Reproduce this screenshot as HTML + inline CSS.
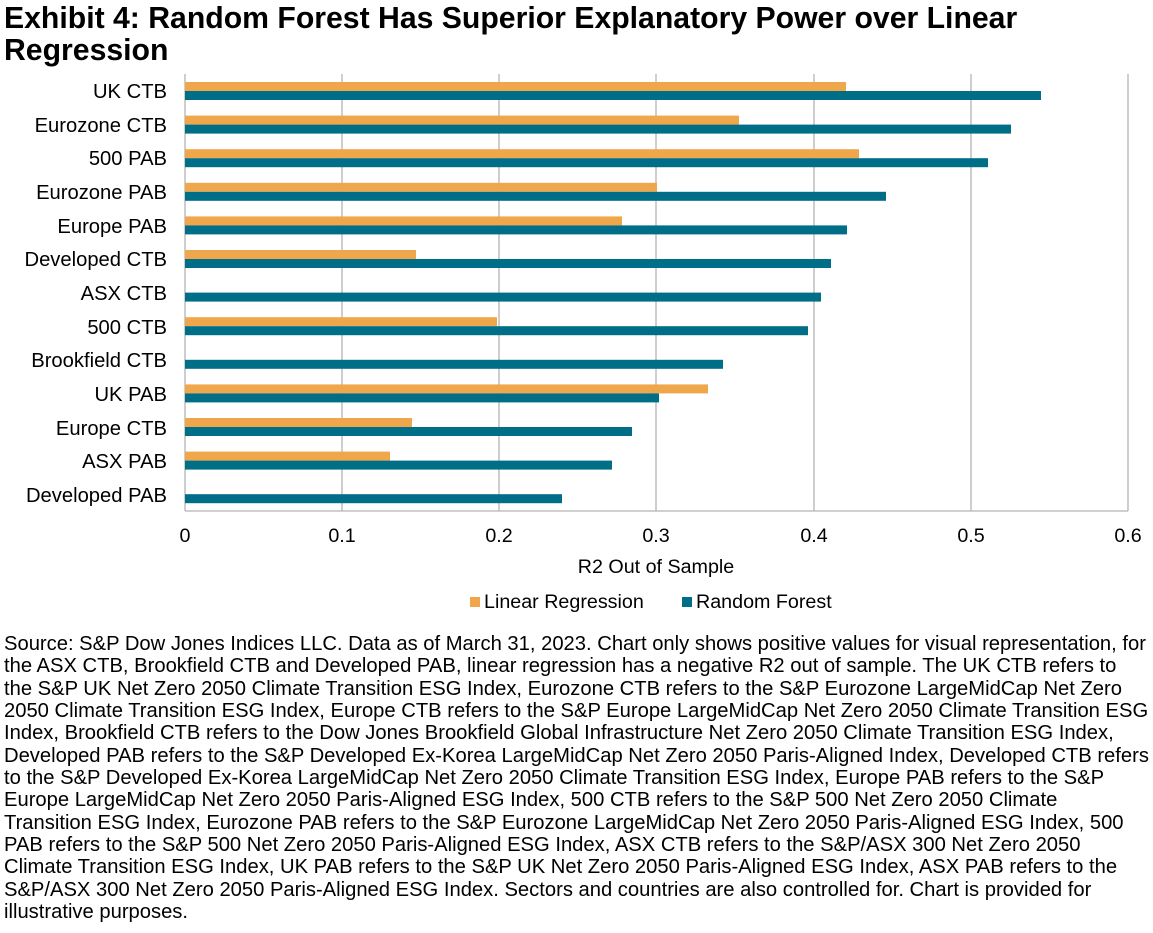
<!DOCTYPE html>
<html><head><style>
body{margin:0;width:1153px;height:933px;background:#fff;font-family:"Liberation Sans",Arial,sans-serif;color:#000;position:relative;overflow:hidden}
.t{position:absolute;left:4px;top:3px;font-size:30.2px;font-weight:bold;line-height:32px;white-space:nowrap}
.f{position:absolute;left:4px;top:633px;font-size:20.2px;line-height:22.35px;white-space:nowrap}
</style></head><body>
<div class="t">Exhibit 4: Random Forest Has Superior Explanatory Power over Linear<br>Regression</div>
<svg width="1153" height="933" style="position:absolute;left:0;top:0" font-family="Liberation Sans, Arial, sans-serif" font-size="19.7">
<g stroke="#b3b3b3" stroke-width="1.3">
<line x1="342" y1="74" x2="342" y2="511"/><line x1="499" y1="74" x2="499" y2="511"/><line x1="656" y1="74" x2="656" y2="511"/><line x1="814" y1="74" x2="814" y2="511"/><line x1="971" y1="74" x2="971" y2="511"/><line x1="1128" y1="74" x2="1128" y2="511"/>
<line x1="185" y1="74" x2="185" y2="511"/><line x1="185" y1="511" x2="1128" y2="511"/>
</g>
<g fill="#f0a64a">
<rect x="185" y="82" width="661" height="9"/>
<rect x="185" y="115.6" width="554" height="9"/>
<rect x="185" y="149.2" width="674" height="9"/>
<rect x="185" y="182.8" width="472" height="9"/>
<rect x="185" y="216.4" width="437" height="9"/>
<rect x="185" y="250" width="231" height="9"/>
<rect x="185" y="317.2" width="312" height="9"/>
<rect x="185" y="384.4" width="523" height="9"/>
<rect x="185" y="418" width="227" height="9"/>
<rect x="185" y="451.6" width="205" height="9"/>
</g>
<g fill="#016e88">
<rect x="185" y="91" width="856" height="9"/>
<rect x="185" y="124.6" width="826" height="9"/>
<rect x="185" y="158.2" width="803" height="9"/>
<rect x="185" y="191.8" width="701" height="9"/>
<rect x="185" y="225.4" width="662" height="9"/>
<rect x="185" y="259" width="646" height="9"/>
<rect x="185" y="292.6" width="636" height="9"/>
<rect x="185" y="326.2" width="623" height="9"/>
<rect x="185" y="359.8" width="538" height="9"/>
<rect x="185" y="393.4" width="474" height="9"/>
<rect x="185" y="427" width="447" height="9"/>
<rect x="185" y="460.6" width="427" height="9"/>
<rect x="185" y="494.2" width="377" height="9"/>
</g>
<g text-anchor="end" font-size="20.2">
<text x="167" y="98">UK CTB</text><text x="167" y="132">Eurozone CTB</text><text x="167" y="165">500 PAB</text><text x="167" y="199">Eurozone PAB</text><text x="167" y="233">Europe PAB</text><text x="167" y="266">Developed CTB</text><text x="167" y="300">ASX CTB</text><text x="167" y="334">500 CTB</text><text x="167" y="367">Brookfield CTB</text><text x="167" y="401">UK PAB</text><text x="167" y="435">Europe CTB</text><text x="167" y="468">ASX PAB</text><text x="167" y="502">Developed PAB</text>
</g>
<g text-anchor="middle">
<text x="185" y="542">0</text><text x="342" y="542">0.1</text><text x="499" y="542">0.2</text><text x="656" y="542">0.3</text><text x="814" y="542">0.4</text><text x="971" y="542">0.5</text><text x="1128" y="542">0.6</text>
<text x="656" y="573">R2 Out of Sample</text>
</g>
<rect x="470" y="597" width="10" height="10" fill="#f0a64a"/><text x="484" y="608">Linear Regression</text>
<rect x="682" y="597" width="10" height="10" fill="#016e88"/><text x="696" y="608">Random Forest</text>
</svg>
<div class="f">Source: S&amp;P Dow Jones Indices LLC. Data as of March 31, 2023. Chart only shows positive values for visual representation, for<br>the ASX CTB, Brookfield CTB and Developed PAB, linear regression has a negative R2 out of sample. The UK CTB refers to<br>the S&amp;P UK Net Zero 2050 Climate Transition ESG Index, Eurozone CTB refers to the S&amp;P Eurozone LargeMidCap Net Zero<br>2050 Climate Transition ESG Index, Europe CTB refers to the S&amp;P Europe LargeMidCap Net Zero 2050 Climate Transition ESG<br>Index, Brookfield CTB refers to the Dow Jones Brookfield Global Infrastructure Net Zero 2050 Climate Transition ESG Index,<br>Developed PAB refers to the S&amp;P Developed Ex-Korea LargeMidCap Net Zero 2050 Paris-Aligned Index, Developed CTB refers<br>to the S&amp;P Developed Ex-Korea LargeMidCap Net Zero 2050 Climate Transition ESG Index, Europe PAB refers to the S&amp;P<br>Europe LargeMidCap Net Zero 2050 Paris-Aligned ESG Index, 500 CTB refers to the S&amp;P 500 Net Zero 2050 Climate<br>Transition ESG Index, Eurozone PAB refers to the S&amp;P Eurozone LargeMidCap Net Zero 2050 Paris-Aligned ESG Index, 500<br>PAB refers to the S&amp;P 500 Net Zero 2050 Paris-Aligned ESG Index, ASX CTB refers to the S&amp;P/ASX 300 Net Zero 2050<br>Climate Transition ESG Index, UK PAB refers to the S&amp;P UK Net Zero 2050 Paris-Aligned ESG Index, ASX PAB refers to the<br>S&amp;P/ASX 300 Net Zero 2050 Paris-Aligned ESG Index. Sectors and countries are also controlled for. Chart is provided for<br>illustrative purposes.</div>
</body></html>
